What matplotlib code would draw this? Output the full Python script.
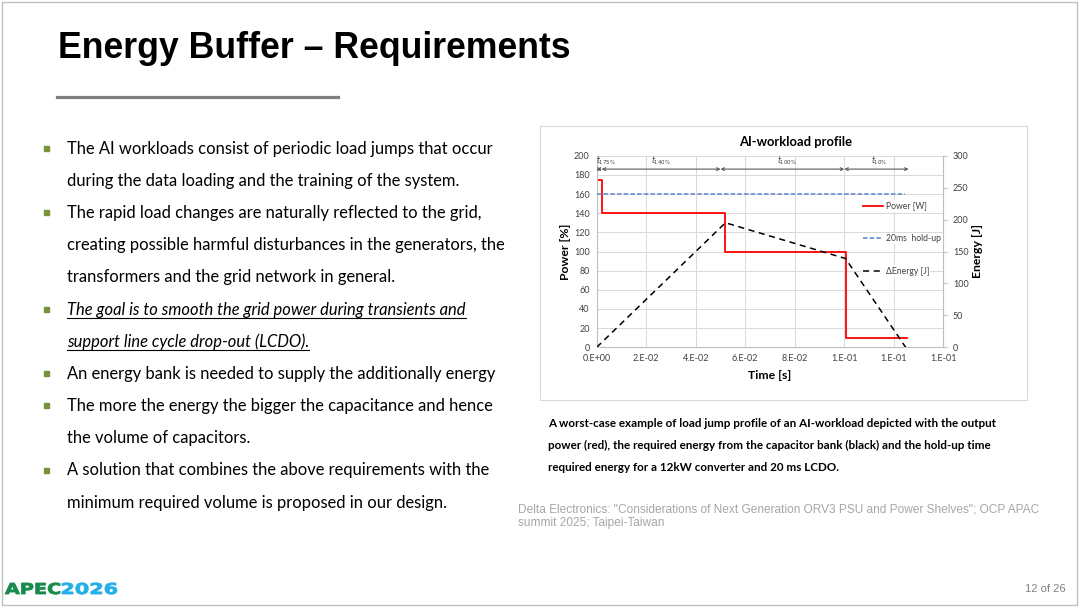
import matplotlib
matplotlib.use('agg')
import matplotlib.pyplot as plt
from matplotlib.lines import Line2D
from matplotlib.patches import Rectangle, PathPatch
from matplotlib.textpath import TextPath
from matplotlib.font_manager import FontProperties
from matplotlib.transforms import Affine2D, IdentityTransform

# ---- chart data ----
power_t = [0.0, 0.002, 0.052, 0.1005, 0.1252]
power_pct = [175, 140, 100, 10, 10]
energy_t = [0.0, 0.052, 0.1005, 0.1248]
energy_j = [0, 195, 139, 0]
holdup_t = [0.0, 0.1245]
holdup_j = [240, 240]
phase_edges = [0.0, 0.002, 0.05, 0.1, 0.126]
phase_labels = [r'$t_{175\%}$', r'$t_{140\%}$', r'$t_{100\%}$', r'$t_{10\%}$']
phase_label_x = [0.0036, 0.026, 0.077, 0.114]
x_ticks = [0.0, 0.02, 0.04, 0.06, 0.08, 0.10, 0.12, 0.14]
x_tick_labels = ['0.E+00', '2.E-02', '4.E-02', '6.E-02', '8.E-02', '1.E-01', '1.E-01', '1.E-01']

# ---- slide text ----
title = 'Energy Buffer \u2013 Requirements'
body_lines = [
    ('The AI workloads consist of periodic load jumps that occur', True, False),
    ('during the data loading and the training of the system.', False, False),
    ('The rapid load changes are naturally reflected to the grid,', True, False),
    ('creating possible harmful disturbances in the generators, the', False, False),
    ('transformers and the grid network in general.', False, False),
    ('The goal is to smooth the grid power during transients and', True, True),
    ('support line cycle drop-out (LCDO).', False, True),
    ('An energy bank is needed to supply the additionally energy', True, False),
    ('The more the energy the bigger the capacitance and hence', True, False),
    ('the volume of capacitors.', False, False),
    ('A solution that combines the above requirements with the', True, False),
    ('minimum required volume is proposed in our design.', False, False),
]
caption_lines = [
    'A worst-case example of load jump profile of an AI-workload depicted with the output',
    'power (red), the required energy from the capacitor bank (black) and the hold-up time',
    'required energy for a 12kW converter and 20 ms LCDO.',
]
ref_lines = [
    'Delta Electronics: "Considerations of Next Generation ORV3 PSU and Power Shelves"; OCP APAC',
    'summit 2025; Taipei-Taiwan',
]

W, H = 1080, 608
fig = plt.figure(figsize=(W / 100, H / 100), dpi=100)
fig.patch.set_facecolor('white')


def fx(x):
    return x / W


def fy(y):
    return 1 - y / H


# slide border
fig.add_artist(Rectangle((fx(2), fy(605)), fx(1075), (603) / H, fill=False,
                         edgecolor='#BFBFBF', lw=1.0, transform=fig.transFigure))

fig.text(fx(58), fy(58), title, fontsize=25.7, fontweight='bold',
         family='Liberation Sans', va='baseline', ha='left')
fig.add_artist(Line2D([fx(57), fx(338)], [fy(97), fy(97)], color='#7F7F7F', lw=2.3))

body_font = dict(family='Lato', fontsize=11.9, color='black')
renderer = fig.canvas.get_renderer()
for i, (txt, bullet, emph) in enumerate(body_lines):
    base = 153.5 + i * 32.2
    t = fig.text(fx(67), fy(base), txt, va='baseline', ha='left',
                 style='italic' if emph else 'normal', **body_font)
    if bullet:
        fig.add_artist(Rectangle((fx(44), fy(base - 3)), fx(5), 5 / H,
                                 color='#77933C', transform=fig.transFigure))
    if emph:
        bb = t.get_window_extent(renderer)
        fig.add_artist(Line2D([bb.x0 / W, bb.x1 / W], [fy(base + 3), fy(base + 3)],
                              color='black', lw=0.8))

# chart frame
fig.add_artist(Rectangle((fx(540), fy(400)), fx(487), 274 / H, fill=False,
                         edgecolor='#D9D9D9', lw=0.8, transform=fig.transFigure))
fig.text(fx(796), fy(142), 'AI-workload profile', family='Lato', fontweight='bold',
         fontsize=9.4, ha='center', va='center')

ax = fig.add_axes([fx(596.7), fy(347.3), (943.3 - 596.7) / W, (347.3 - 155.7) / H])
ax2 = ax.twinx()
tick_font = dict(family='Lato', fontsize=6.5, color='#404040')

ax.set_xlim(0, 0.14)
ax.set_ylim(0, 200)
ax.set_xticks(x_ticks)
ax.set_xticklabels(x_tick_labels, **tick_font)
ax.set_yticks(range(0, 201, 20))
ax.set_yticklabels([str(v) for v in range(0, 201, 20)], **tick_font)
ax.tick_params(axis='both', length=0, pad=5)
ax.grid(True, color='#D9D9D9', lw=0.7)
ax.set_axisbelow(True)
for s in ['top', 'right']:
    ax.spines[s].set_visible(False)
for s in ['left', 'bottom']:
    ax.spines[s].set_color('#BFBFBF')
    ax.spines[s].set_linewidth(0.8)

ax2.set_ylim(0, 300)
ax2.set_yticks(range(0, 301, 50))
ax2.set_yticklabels([str(v) for v in range(0, 301, 50)], **tick_font)
ax2.tick_params(axis='y', length=3, color='#BFBFBF', pad=4)
for s in ['top', 'left', 'bottom']:
    ax2.spines[s].set_visible(False)
ax2.spines['right'].set_color('#BFBFBF')
ax2.spines['right'].set_linewidth(0.8)

l_power, = ax.step(power_t, power_pct, where='post', color='#FF0000', lw=1.3)
l_hold, = ax2.plot(holdup_t, holdup_j, color='#7394D4', lw=1.3, dashes=(2.5, 1.2))
l_energy, = ax2.plot(energy_t, energy_j, color='black', lw=1.1, dashes=(4, 3))

# phase arrows
for a, b in zip(phase_edges[:-1], phase_edges[1:]):
    ax.annotate('', xy=(b, 186), xytext=(a, 186),
                arrowprops=dict(arrowstyle='<->', color='#595959', lw=0.8,
                                shrinkA=0, shrinkB=0, mutation_scale=5))
for lx, lab in zip(phase_label_x, phase_labels):
    ax.text(lx, 195, lab, fontsize=5.5, ha='center', va='center', color='#404040')

lab_font = dict(family='Lato', fontweight='bold', fontsize=8.8)
ax.set_ylabel('Power [%]', labelpad=2, **lab_font)
ax2.set_ylabel('Energy [J]', labelpad=2.5, **lab_font)
ax.set_xlabel('Time [s]', labelpad=5, **lab_font)

leg_pos = [0.737, 0.567, 0.398]
leg_items = [(l_power, 'Power [W]'), (l_hold, '20ms  hold-up'), (l_energy, '\u0394Energy [J]')]
for (h, lab), yp in zip(leg_items, leg_pos):
    leg = ax2.legend([h], [lab], loc='center left', bbox_to_anchor=(0.765, yp),
                     frameon=True, framealpha=1, edgecolor='none', fancybox=False,
                     handlelength=2.3, handletextpad=0.3, borderpad=0.15,
                     borderaxespad=0, prop={'family': 'Lato', 'size': 6.2})
    for t in leg.get_texts():
        t.set_color('#404040')
    ax2.add_artist(leg)

for i, txt in enumerate(caption_lines):
    fig.text(fx(548), fy(427 + i * 22), txt, family='Lato', fontweight='bold',
             fontsize=8.35, va='baseline', ha='left')

for i, txt in enumerate(ref_lines):
    fig.text(fx(518), fy(512 + i * 14), txt, family='Liberation Sans', fontsize=8.55,
             color='#A6A6A6', va='baseline', ha='left')

fig.text(fx(1066), fy(589), '12 of 26', family='Liberation Sans', fontsize=8,
         color='#808080', ha='right', va='center')

# conference logo: wide, heavy lettering, stretched horizontally
logo_fp = FontProperties(family='DejaVu Sans', weight='bold')
for word, x0, col in [('APEC', 5, '#178A4C'), ('2026', 62, '#22AEE6')]:
    tp = TextPath((0, 0), word, size=1, prop=logo_fp)
    ext = tp.get_extents()
    tr = (Affine2D().translate(-ext.x0, 0)
          .scale(55 / ext.width, 11 / 0.73)
          .translate(x0, H - 594))
    fig.add_artist(PathPatch(tr.transform_path(tp), facecolor=col, edgecolor=col,
                             lw=0.6, transform=IdentityTransform()))

fig.savefig('out.png', dpi=100)
